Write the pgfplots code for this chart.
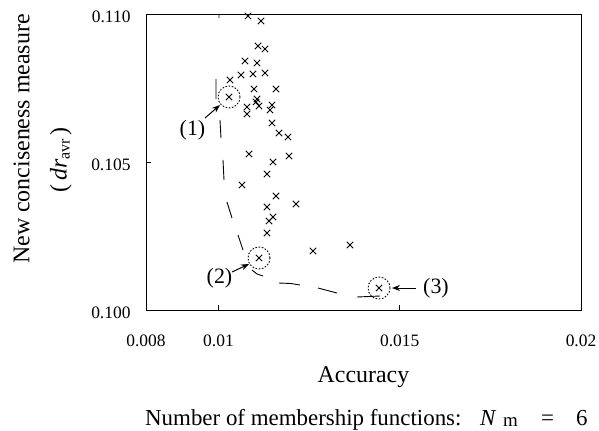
\documentclass[border=0pt]{standalone}
\usepackage{fontspec}
\setmainfont{Liberation Serif}
\usepackage{pgfplots}
\pgfplotsset{compat=1.18}
\usetikzlibrary{arrows.meta}

\begin{document}
\begin{tikzpicture}[x=1bp,y=1bp]
\useasboundingbox (-146,-120) rectangle (453,310);
\begin{axis}[
  at={(0,0)}, anchor=south west,
  width=435bp, height=296bp, scale only axis,
  xmin=0.008, xmax=0.02, ymin=0.1, ymax=0.11,
  xtick={0.008,0.01,0.015,0.02},
  xticklabels={0.008,0.01,0.015,0.02},
  ytick={0.1,0.105,0.11},
  yticklabels={0.100,0.105,0.110},
  scaled ticks=false,
  xtick pos=bottom, ytick pos=left,
  tick align=inside, major tick length=5bp,
  axis line style={line width=0.9bp},
  tick style={line width=0.8bp, black},
  ticklabel style={font=\fontsize{17.5}{20}\selectfont},
  xticklabel style={yshift=-21bp},
  yticklabel style={xshift=-12bp, yshift=-3bp},
  /pgf/number format/assume math mode=true,
  unbounded coords=jump,
  clip=false,
]
% Pareto front (dashed curve pieces)
\addplot[black, line width=0.9bp, no marks] coordinates {
 (0.010014,0.110000) (0.010014,0.109865) (nan,nan)
 (0.009931,0.107804) (0.009931,0.107128) (nan,nan)
 (0.010041,0.106419) (0.010069,0.105811) (nan,nan)
 (0.010124,0.105068) (0.010152,0.104392) (nan,nan)
 (0.010234,0.103649) (0.010372,0.103108) (nan,nan)
 (0.010538,0.102534) (0.010676,0.102027) (nan,nan)
 (0.010924,0.101351) (0.011062,0.101216) (0.011228,0.101149) (nan,nan)
 (0.011669,0.100912) (0.012000,0.100895) (0.012248,0.100845) (nan,nan)
 (0.012745,0.100743) (0.013269,0.100574) (nan,nan)
 (0.013821,0.100439) (0.014455,0.100473)
};
% solutions
\addplot[only marks, mark=x, mark size=4.5bp, mark options={line width=1bp, black}] coordinates {
 (0.010814,0.109932) (0.011172,0.109764) (0.011090,0.108919) (0.011283,0.108818)
 (0.010731,0.108412) (0.011062,0.108345) (0.010317,0.107770) (0.010621,0.107939)
 (0.010952,0.107973) (0.011283,0.108007) (0.010979,0.107466) (0.011586,0.107466)
 (0.010290,0.107196) (0.011062,0.107128) (0.011034,0.107027) (0.011117,0.106892)
 (0.010786,0.106858) (0.010786,0.106622) (0.011421,0.106757) (0.011476,0.106926)
 (0.011476,0.106318) (0.011669,0.105980) (0.011917,0.105845) (0.010841,0.105270)
 (0.011503,0.105000) (0.011945,0.105203) (0.011338,0.104595) (0.010648,0.104223)
 (0.011586,0.103851) (0.012138,0.103581) (0.011338,0.103480) (0.011503,0.103142)
 (0.011393,0.103007) (0.011338,0.102601) (0.011117,0.101757) (0.012607,0.101993)
 (0.013628,0.102196) (0.014428,0.100743)
};
% highlighted solutions
\addplot[only marks, mark=o, mark size=11bp, mark options={line width=0.9bp, black, dash pattern=on 1.6bp off 1.6bp}] coordinates {
 (0.010290,0.107196) (0.011117,0.101757) (0.014428,0.100743)
};
\end{axis}
% annotations
\node[font=\fontsize{22}{26}\selectfont] at (46.5,180) {(1)};
\draw[line width=1bp, -{Stealth[length=8bp,width=6bp]}] (59,192) -- (74,205);
\node[font=\fontsize{22}{26}\selectfont] at (73.5,32) {(2)};
\draw[line width=1bp, -{Stealth[length=8bp,width=6bp]}] (86,38) -- (103,46);
\node[font=\fontsize{22}{26}\selectfont] at (290,22) {(3)};
\draw[line width=1bp, -{Stealth[length=8bp,width=6bp]}] (270,22) -- (246,22);
% axis labels
\node[rotate=90, font=\fontsize{24}{28}\selectfont] at (-124.5,171) {New conciseness measure};
\node[rotate=90, font=\fontsize{24}{28}\selectfont] at (-85,150) {(\,\textit{dr}\raisebox{-3bp}{\fontsize{16}{18}\selectfont avr}\,)};
\node[anchor=base, font=\fontsize{24}{28}\selectfont] at (217.5,-72) {Accuracy};
% bottom caption
\begin{scope}[every node/.style={anchor=base west, inner sep=0pt, font=\fontsize{23}{27}\selectfont}]
\node at (-1,-115) {Number of membership functions:};
\node at (334,-115) {\textit{N}};
\node[font=\fontsize{19}{22}\selectfont] at (357,-116.5) {m};
\node at (395,-115) {=};
\node at (430,-115) {6};
\end{scope}
\end{tikzpicture}
\end{document}
